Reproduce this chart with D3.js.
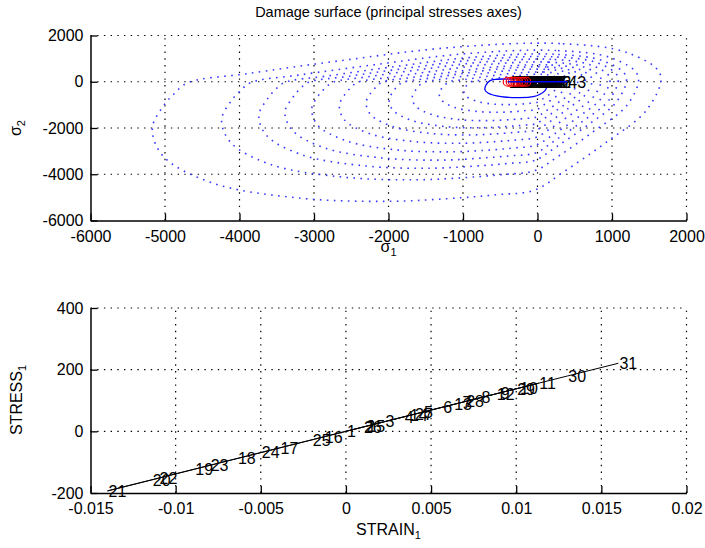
<!DOCTYPE html>
<html><head><meta charset="utf-8">
<script src="https://cdn.jsdelivr.net/npm/d3@7"></script>
<style>
html,body{margin:0;padding:0;background:#fff;}
svg{display:block;}
text{font-family:"Liberation Sans",Arial,Helvetica,sans-serif;}
</style></head><body>
<svg id="chart" width="705" height="548"></svg>
<script>
// ---------- top chart: damage surfaces (sigma1, sigma2) ----------
const surf1 = [[1230,1230],[300,1650],[-1200,1470],[-2600,930],[-3900,350],[-4700,-50],[-4880,-530],[-5010,-1000],[-5170,-2000],[-5030,-3200],[-4370,-4370],[-3200,-5030],[-2000,-5170],[-1000,-5010],[-530,-4880],[-50,-4700],[350,-3900],[930,-2600],[1470,-1200],[1650,300]];
const surf2 = [[1010,1010],[250,1350],[-980,1210],[-2130,760],[-3200,290],[-3850,-40],[-4000,-430],[-4110,-820],[-4240,-1640],[-4120,-2620],[-3580,-3580],[-2620,-4120],[-1640,-4240],[-820,-4110],[-430,-4000],[-40,-3850],[290,-3200],[760,-2130],[1210,-980],[1350,250]];
const surf3 = [[890,890],[220,1190],[-870,1060],[-1880,670],[-2820,250],[-3400,-40],[-3530,-380],[-3620,-720],[-3740,-1450],[-3640,-2310],[-3160,-3160],[-2310,-3640],[-1450,-3740],[-720,-3620],[-380,-3530],[-40,-3400],[250,-2820],[670,-1880],[1060,-870],[1190,220]];
const surf4 = [[810,810],[200,1080],[-790,960],[-1700,610],[-2550,230],[-3080,-30],[-3200,-350],[-3280,-660],[-3390,-1310],[-3290,-2100],[-2860,-2860],[-2100,-3290],[-1310,-3390],[-660,-3280],[-350,-3200],[-30,-3080],[230,-2550],[610,-1700],[960,-790],[1080,200]];
const surf5 = [[720,720],[180,970],[-700,860],[-1520,550],[-2290,210],[-2750,-30],[-2860,-310],[-2940,-590],[-3030,-1170],[-2950,-1880],[-2560,-2560],[-1880,-2950],[-1170,-3030],[-590,-2940],[-310,-2860],[-30,-2750],[210,-2290],[550,-1520],[860,-700],[970,180]];
const surf6 = [[630,630],[150,850],[-620,760],[-1340,480],[-2010,180],[-2420,-30],[-2510,-270],[-2580,-520],[-2660,-1030],[-2590,-1650],[-2250,-2250],[-1650,-2590],[-1030,-2660],[-520,-2580],[-270,-2510],[-30,-2420],[180,-2010],[480,-1340],[760,-620],[850,150]];
const surf7 = [[550,550],[130,730],[-530,650],[-1160,410],[-1740,160],[-2090,-20],[-2170,-240],[-2230,-450],[-2300,-890],[-2240,-1420],[-1940,-1940],[-1420,-2240],[-890,-2300],[-450,-2230],[-240,-2170],[-20,-2090],[160,-1740],[410,-1160],[650,-530],[730,130]];
const surf8 = [[470,470],[120,640],[-460,570],[-1000,360],[-1500,130],[-1810,-20],[-1880,-200],[-1930,-390],[-1990,-770],[-1940,-1230],[-1680,-1680],[-1230,-1940],[-770,-1990],[-390,-1930],[-200,-1880],[-20,-1810],[130,-1500],[360,-1000],[570,-460],[640,120]];
const surf9 = [[400,400],[100,540],[-390,480],[-850,300],[-1270,110],[-1530,-20],[-1590,-170],[-1630,-330],[-1680,-650],[-1640,-1040],[-1420,-1420],[-1040,-1640],[-650,-1680],[-330,-1630],[-170,-1590],[-20,-1530],[110,-1270],[300,-850],[480,-390],[540,100]];
const surf10 = [[310,310],[80,420],[-310,370],[-660,240],[-990,90],[-1200,-10],[-1240,-140],[-1280,-260],[-1320,-510],[-1280,-820],[-1110,-1110],[-820,-1280],[-510,-1320],[-260,-1280],[-140,-1240],[-10,-1200],[90,-990],[240,-660],[370,-310],[420,80]];
const surf11 = [[230,230],[60,320],[-230,280],[-500,180],[-740,70],[-900,-10],[-930,-100],[-960,-190],[-990,-380],[-960,-610],[-830,-830],[-610,-960],[-380,-990],[-190,-960],[-100,-930],[-10,-900],[70,-740],[180,-500],[280,-230],[320,60]];
const dottedSurfaces = [surf1,surf2,surf3,surf4,surf5,surf6,surf7,surf8,surf9,surf10,surf11];

// current damage surface (solid blue loop)
const loopS1 = [-550,-637,-691,-705,-660,-548,-413,-235,-56,34,101,124,120,40,-150,-380];
const loopS2 = [108,48,-138,-354,-497,-613,-670,-687,-644,-540,-384,-212,-20,90,120,118];

// stress path in principal stresses (labels 1..43)
const pathS1 = [0,50,100,150,200,150,100,50,0,-50,-100,-150,-200,-250,-300,-350,-400,-330,-260,-190,-120,-50,20,90,160,200,130,60,-10,-80,-150,-220,-290,-360,-290,-210,-130,-50,30,100,150,200,400];
const pathS2 = [0,0,0,0,0,0,0,0,0,0,0,0,0,0,0,0,0,0,0,0,0,0,0,0,0,0,0,0,0,0,0,0,0,0,0,0,0,0,0,0,0,0,0];
const redMarkS1 = [-400,-360,-330,-300,-260,-220,-190,-150];
const redMarkS2 = [0,0,0,0,0,0,0,0];

const topXTicks = [-6000,-5000,-4000,-3000,-2000,-1000,0,1000,2000];
const topYTicks = [-6000,-4000,-2000,0,2000];

// ---------- bottom chart: stress-strain ----------
const strain1 = [0,0.00113,0.00226,0.00339,0.00452,0.00565,0.00678,0.00791,0.00904,0.01017,0.0113,0.0088,0.0063,0.0037,0.0012,-0.0013,-0.0039,-0.0064,-0.0089,-0.0114,-0.0140,-0.0110,-0.0080,-0.0050,-0.0020,0.0010,0.0040,0.0070,0.0100,0.0130,0.0160];
const stress1 = [0,15.6,31.2,46.8,62.4,78.0,93.6,109.2,124.8,140.3,155.9,121.4,86.9,51.1,16.6,-17.9,-53.8,-88.3,-122.8,-157.3,-193.2,-151.8,-110.4,-69.0,-27.6,13.8,55.2,96.6,138.0,179.4,220.8];
const botXTicks = [-0.015,-0.01,-0.005,0,0.005,0.01,0.015,0.02];
const botYTicks = [-200,0,200,400];

// ---------- drawing ----------
const svg = d3.select("#chart");
const FS = 16;

const xTop = d3.scaleLinear().domain([-6000,2000]).range([90.5,686.5]);
const yTop = d3.scaleLinear().domain([-6000,2000]).range([220.5,35.5]);
const xBot = d3.scaleLinear().domain([-0.015,0.02]).range([90.5,686.5]);
const yBot = d3.scaleLinear().domain([-200,400]).range([493,308]);

function frame(x, y, xt, yt) {
  const g = svg.append("g");
  const [x0,x1] = x.range(), [y0,y1] = y.range();
  g.selectAll(".gv").data(xt.filter(v => x(v) > x0 + 1)).join("line")
    .attr("x1", d => x(d)).attr("x2", d => x(d)).attr("y1", y0).attr("y2", y1)
    .attr("stroke", "#000").attr("stroke-width", 1.2).attr("stroke-dasharray", "1.4 5.3");
  g.selectAll(".gh").data(yt.filter(v => y(v) < y0 - 1)).join("line")
    .attr("y1", d => y(d)).attr("y2", d => y(d)).attr("x1", x0).attr("x2", x1)
    .attr("stroke", "#000").attr("stroke-width", 1.2).attr("stroke-dasharray", "1.4 5.3");
  const ax = g.append("g").attr("transform", `translate(0,${y0})`)
    .call(d3.axisBottom(x).tickValues(xt).tickFormat(d => String(d)).tickSize(-7).tickSizeOuter(0).tickPadding(10));
  const ay = g.append("g").attr("transform", `translate(${x0},0)`)
    .call(d3.axisLeft(y).tickValues(yt).tickFormat(d => String(d)).tickSize(-7).tickSizeOuter(0).tickPadding(7));
  [ax, ay].forEach(a => {
    a.selectAll("text").attr("font-size", FS).attr("font-family", "Liberation Sans, Arial, sans-serif").attr("fill", "#000");
    a.select(".domain").attr("stroke", "#000").attr("stroke-width", 1.5);
    a.selectAll(".tick line").attr("stroke", "#000").attr("stroke-width", 1.3);
  });
}

frame(xTop, yTop, topXTicks, topYTicks);
frame(xBot, yBot, botXTicks, botYTicks);

// dotted surfaces
const closed = d3.line().x(d => xTop(d[0])).y(d => yTop(d[1])).curve(d3.curveCatmullRomClosed.alpha(0.5));
svg.append("g").selectAll("path").data(dottedSurfaces).join("path")
  .attr("d", closed).attr("fill", "none").attr("stroke", "#3a3aff")
  .attr("stroke-width", 1.6).attr("stroke-dasharray", "1.6 5.4");

// solid loop
const loopPts = loopS1.map((v,i) => [v, loopS2[i]]);
svg.append("path").attr("d", closed(loopPts)).attr("fill", "none")
  .attr("stroke", "#0000ff").attr("stroke-width", 1.3);

// path labels
const pathPts = pathS1.map((v,i) => [v, pathS2[i]]);
svg.append("g").selectAll("text").data(pathPts).join("text")
  .attr("x", d => xTop(d[0]) + 1).attr("y", d => yTop(d[1])).attr("dy", "0.36em")
  .attr("font-size", FS).attr("fill", "#000").text((d,i) => String(i+1));
// red markers
svg.append("g").selectAll("circle").data(redMarkS1.map((v,i)=>[v,redMarkS2[i]])).join("circle")
  .attr("cx", d => xTop(d[0])).attr("cy", d => yTop(d[1])).attr("r", 4.5)
  .attr("fill", "none").attr("stroke", "#ff0000").attr("stroke-width", 1.2);
// path line
svg.append("path").attr("d", d3.line().x(d => xTop(d[0])).y(d => yTop(d[1]))(pathPts))
  .attr("fill", "none").attr("stroke", "#0000ff").attr("stroke-width", 1.4);

// bottom chart path
const ssPts = strain1.map((v,i) => [v, stress1[i]]);
svg.append("path").attr("d", d3.line().x(d => xBot(d[0])).y(d => yBot(d[1]))(ssPts))
  .attr("fill", "none").attr("stroke", "#000").attr("stroke-width", 1);
svg.append("g").selectAll("text").data(ssPts).join("text")
  .attr("x", d => xBot(d[0]) + 1).attr("y", d => yBot(d[1])).attr("dy", "0.36em")
  .attr("font-size", FS).attr("fill", "#000").text((d,i) => String(i+1));

// titles and axis labels
svg.append("text").attr("x", 388.5).attr("y", 17).attr("text-anchor", "middle")
  .attr("font-size", 14.5).text("Damage surface (principal stresses axes)");

function labelWithSub(g, main, sub) {
  g.append("tspan").text(main);
  g.append("tspan").attr("dy", 4).attr("font-size", 11).text(sub);
}
labelWithSub(svg.append("text").attr("x", 388.5).attr("y", 252).attr("text-anchor", "middle").attr("font-size", FS), "σ", "1");
labelWithSub(svg.append("text").attr("transform", "translate(21,128) rotate(-90)").attr("text-anchor", "middle").attr("font-size", FS), "σ", "2");
labelWithSub(svg.append("text").attr("x", 388.5).attr("y", 535).attr("text-anchor", "middle").attr("font-size", FS), "STRAIN", "1");
labelWithSub(svg.append("text").attr("transform", "translate(22,400) rotate(-90)").attr("text-anchor", "middle").attr("font-size", FS), "STRESS", "1");
</script></body></html>
